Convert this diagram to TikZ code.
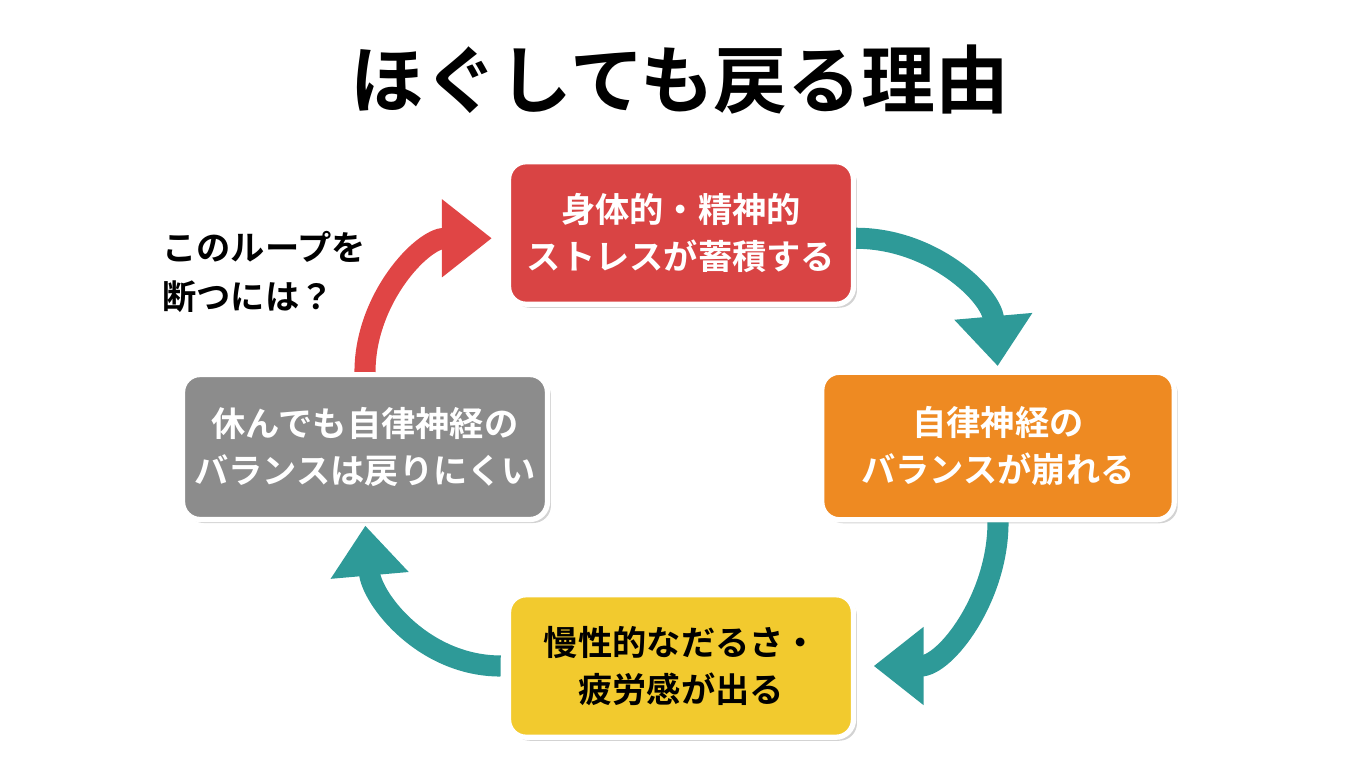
\documentclass[tikz,border=0pt]{standalone}
\usepackage{fontspec}
\setmainfont{Noto Sans CJK JP}[BoldFont={* Bold}]
\usetikzlibrary{arrows.meta, shadows}
\definecolor{boxred}{HTML}{D94444}
\definecolor{boxorange}{HTML}{EE8A22}
\definecolor{boxyellow}{HTML}{F2CA2E}
\definecolor{boxgray}{HTML}{8C8C8C}
\definecolor{loopteal}{HTML}{2E9A98}
\definecolor{loopred}{HTML}{E04545}
\tikzset{stage/.style={draw=white, line width=3pt, rounded corners=10pt, align=center,
    font=\bfseries\fontsize{19.5}{27}\selectfont, drop shadow={opacity=0.35, shadow xshift=2pt, shadow yshift=-2pt}}}
\tikzset{flow/.style={line width=12pt, loopteal, -{Triangle[length=1.0cm, width=1.5cm]}, shorten >=2pt}}
\begin{document}
\begin{tikzpicture}[x=0.02cm, y=-0.02cm]
  \useasboundingbox (0,0) rectangle (1360,784);
  % Title
  \node[font=\bfseries\fontsize{42}{48}\selectfont] (title) at (680,80) {ほぐしても戻る理由};
  % Stages
  \node[stage, fill=boxred, text=white, minimum width=6.9cm, minimum height=2.85cm] (stress) at (681,233) {身体的・精神的\\ストレスが蓄積する};
  \node[stage, fill=boxorange, text=white, minimum width=7.05cm, minimum height=2.95cm] (balance) at (998,446) {自律神経の\\バランスが崩れる};
  \node[stage, fill=boxyellow, text=black, minimum width=6.9cm, minimum height=2.85cm] (tired) at (681,666) {慢性的なだるさ・\\疲労感が出る};
  \node[stage, fill=boxgray, text=white, minimum width=7.3cm, minimum height=2.9cm] (rest) at (365,447) {休んでも自律神経の\\バランスは戻りにくい};
  \node[font=\bfseries\fontsize{19.5}{28}\selectfont, align=left] (question) at (264,272) {このループを\\断つには？};
  % Loop arrows
  \draw[flow] ([yshift=-3pt]stress.east) to[out=0, in=95] (balance.north);
  \draw[flow] (balance.south) to[out=-90, in=0] ([xshift=8pt]tired.east);
  \draw[flow] ([xshift=-3pt]tired.west) to[out=180, in=-85] (rest.south);
  \draw[flow, loopred] (rest.north) to[out=90, in=180] ([xshift=-6pt, yshift=-3pt]stress.west);
\end{tikzpicture}
\end{document}
